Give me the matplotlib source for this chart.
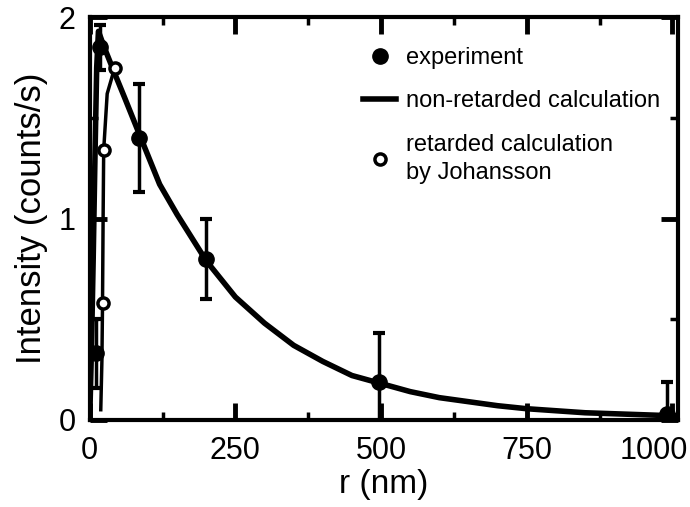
import numpy as np
import matplotlib.pyplot as plt
import matplotlib.transforms as mtransforms
from matplotlib.lines import Line2D
from matplotlib.ticker import MultipleLocator

# experiment (r in nm, intensity, error)
r_exp = [10, 17, 84, 200, 497, 990]
i_exp = [0.33, 1.85, 1.40, 0.80, 0.19, 0.03]
e_exp = [0.17, 0.11, 0.27, 0.20, 0.24, 0.16]

# non-retarded calculation
r_nr = [0, 3, 6, 9, 12, 15, 25, 43, 60, 85, 120, 150, 200, 250, 300, 350,
        400, 450, 500, 550, 600, 650, 700, 750, 800, 850, 900, 950, 1000, 1010]
i_nr = [0.0, 0.35, 0.8, 1.3, 1.75, 1.93, 1.85, 1.72, 1.60, 1.42, 1.17, 1.02,
        0.79, 0.61, 0.48, 0.37, 0.29, 0.22, 0.18, 0.14, 0.11, 0.09, 0.07,
        0.055, 0.045, 0.035, 0.03, 0.025, 0.02, 0.02]

# retarded calculation by Johansson
r_ret = [19, 21, 22, 23, 24, 30, 43]
i_ret = [0.05, 0.30, 0.58, 1.00, 1.34, 1.62, 1.75]

x_ticks = [0, 250, 500, 750, 1000]
x_ticklabels = ['0', '250', '500', '750', '1000']

plt.rcParams['font.family'] = ['Liberation Sans', 'DejaVu Sans']

fig = plt.figure(figsize=(6.9, 5.07), dpi=100)
ax = fig.add_axes([0.130, 0.172, 0.853, 0.794])

ax.plot(r_nr, i_nr, '-', color='black', lw=4, zorder=2)
ax.plot(r_ret, i_ret, '-o', color='black', lw=2.5, ms=8, mfc='white', mec='black',
        mew=2.5, markevery=[2, 4, 6], zorder=3)
ax.errorbar(r_exp, i_exp, yerr=e_exp, fmt='o', color='black', ms=11, elinewidth=2.5,
            capsize=4, capthick=3, zorder=4)

ax.set_xlim(0, 1010)
ax.set_ylim(0, 2)
ax.set_xticks(x_ticks, x_ticklabels)
ax.xaxis.set_minor_locator(MultipleLocator(125))
ax.yaxis.set_major_locator(MultipleLocator(1))
ax.yaxis.set_minor_locator(MultipleLocator(0.5))
ax.tick_params(which='both', direction='in', top=True, right=True, labelsize=22)
ax.tick_params(which='major', length=12, width=3.5)
ax.tick_params(which='minor', length=6, width=2.5)
ax.tick_params(axis='x', pad=12)
ax.tick_params(axis='y', pad=10)
for s in ax.spines.values():
    s.set_linewidth(3)

ax.set_xlabel('r (nm)', fontsize=24, labelpad=2)
ax.set_ylabel('Intensity (counts/s)', fontsize=25, labelpad=8)

# nudge the last x tick label left so it stays inside the figure
fig.canvas.draw()
last = ax.xaxis.get_major_ticks()[-1].label1
last.set_transform(last.get_transform()
                   + mtransforms.ScaledTranslation(-0.19, 0, fig.dpi_scale_trans))

handles = [
    Line2D([], [], ls='none', marker='o', color='black', ms=11),
    Line2D([], [], ls='-', color='black', lw=4),
    Line2D([], [], ls='none', marker='o', mfc='white', mec='black', mew=2.5, ms=8),
]
labels = ['experiment', 'non-retarded calculation', 'retarded calculation\nby Johansson']
leg = ax.legend(handles, labels, loc='upper left', bbox_to_anchor=(0.445, 0.955),
                frameon=False, prop={'size': 17},
                handlelength=1.4, handletextpad=0.4, labelspacing=0.9, borderpad=0)
leg.get_texts()[2].set_linespacing(1.4)

plt.savefig('out.png', dpi=100)
